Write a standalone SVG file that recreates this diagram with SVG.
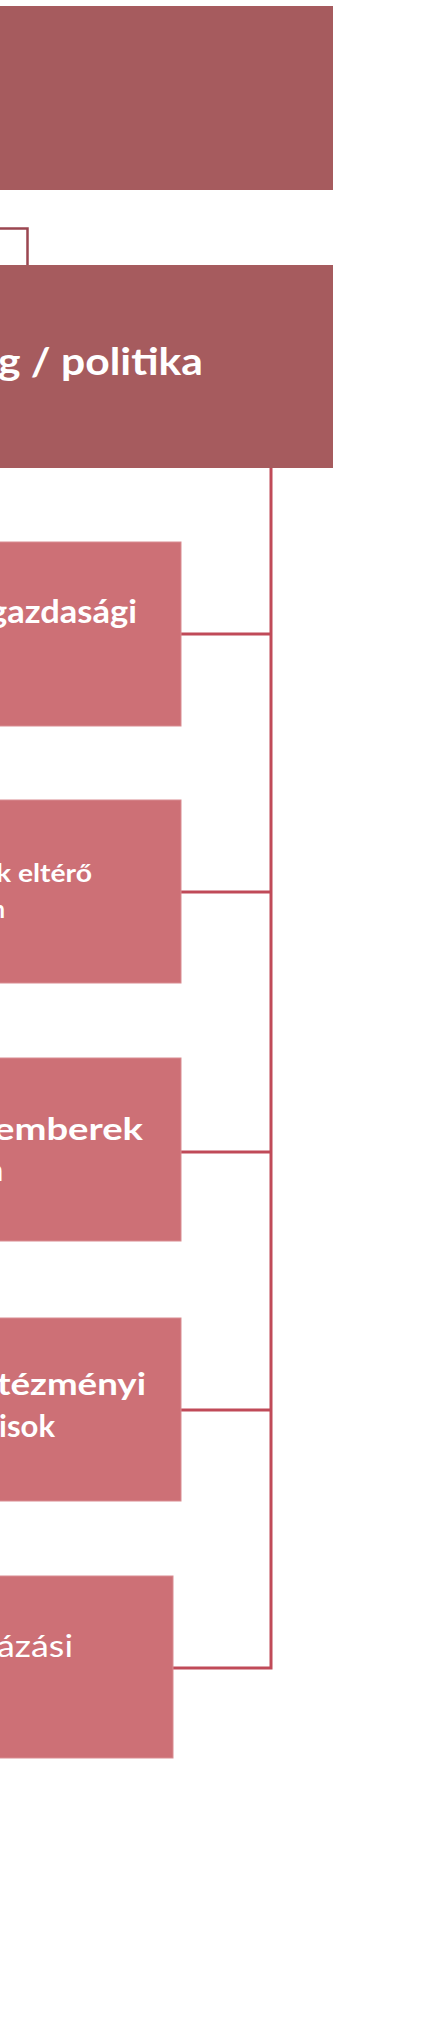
<svg xmlns="http://www.w3.org/2000/svg" width="424" height="2024" viewBox="0 0 424 2024">
  <style>
    .top { fill: #A65B5E; }
    .child { fill: #CD7076; stroke: #D98C91; stroke-width: 1; }
    .conn { fill: none; stroke: #C04A58; stroke-width: 3; }
    .conn-top { fill: none; stroke: #9B4650; stroke-width: 2.5; }
    .t { fill: #FFFFFF; font-family: Lato, "Open Sans", "Liberation Sans", sans-serif; font-weight: bold; }
    .r { font-weight: normal; }
  </style>
  <rect width="424" height="2024" fill="#FFFFFF"/>
  <g id="connectors">
    <polyline class="conn-top" points="-5,228.5 27.5,228.5 27.5,265"/>
    <polyline class="conn" points="271,468 271,1668 173,1668"/>
    <line class="conn" x1="181" y1="634" x2="271" y2="634"/>
    <line class="conn" x1="181" y1="892" x2="271" y2="892"/>
    <line class="conn" x1="181" y1="1152" x2="271" y2="1152"/>
    <line class="conn" x1="181" y1="1410" x2="271" y2="1410"/>
  </g>
  <g id="node-1">
    <rect class="top" x="-5" y="6" width="338" height="184"/>
  </g>
  <g id="node-2">
    <rect class="top" x="-5" y="265" width="338" height="203"/>
    <text class="t" x="-2" y="375" font-size="38" textLength="205" lengthAdjust="spacingAndGlyphs">g / politika</text>
  </g>
  <g id="node-3">
    <rect class="child" x="-5" y="542" width="186" height="184"/>
    <text class="t" x="-11" y="623" font-size="32" textLength="148" lengthAdjust="spacingAndGlyphs">gazdasági</text>
  </g>
  <g id="node-4">
    <rect class="child" x="-5" y="800" width="186" height="183"/>
    <text class="t" x="-4" y="882" font-size="25" textLength="96" lengthAdjust="spacingAndGlyphs">k eltérő</text>
    <text class="t" x="-8" y="918" font-size="25" textLength="13" lengthAdjust="spacingAndGlyphs">n</text>
  </g>
  <g id="node-5">
    <rect class="child" x="-5" y="1058" width="186" height="183"/>
    <text class="t" x="-6" y="1140" font-size="31" textLength="149" lengthAdjust="spacingAndGlyphs">emberek</text>
    <text class="t" x="-13" y="1181" font-size="31" textLength="16" lengthAdjust="spacingAndGlyphs">n</text>
  </g>
  <g id="node-6">
    <rect class="child" x="-5" y="1318" width="186" height="183"/>
    <text class="t" x="-3" y="1395" font-size="31" textLength="149" lengthAdjust="spacingAndGlyphs">tézményi</text>
    <text class="t" x="-1" y="1437" font-size="31" textLength="56" lengthAdjust="spacingAndGlyphs">isok</text>
  </g>
  <g id="node-7">
    <rect class="child" x="-5" y="1576" width="178" height="182"/>
    <text class="t r" x="-3" y="1657" font-size="30" textLength="76" lengthAdjust="spacingAndGlyphs">ázási</text>
  </g>
</svg>
